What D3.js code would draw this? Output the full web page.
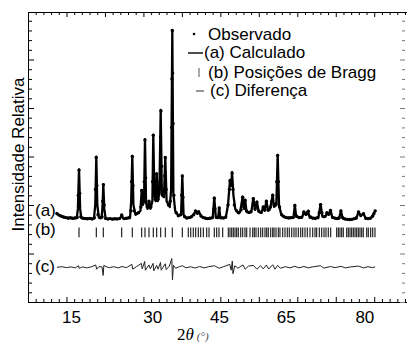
<!DOCTYPE html>
<html>
<head>
<meta charset="utf-8">
<script src="https://cdn.jsdelivr.net/npm/d3@7"></script>
<style>
  body { margin: 0; background: #fff; }
  svg { display: block; }
  text { font-family: "Liberation Sans", Arial, sans-serif; }
</style>
</head>
<body>
<svg id="chart" width="407" height="345"></svg>
<script>
// tick labels on the 2theta axis, and where they sit (in degrees)
const xTickLabels = ["15", "30", "45", "65", "80"];
const xTickValues = [15, 33, 47.8, 62.6, 80];

// (a) calculated profile: [2theta, intensity]
const calculated = [
  [11.9,45.4],[12.6,44.5],[13.5,43.6],[15,43.3],[16.3,43.3],[16.55,48],[16.8,68.4],[17.05,48],[17.3,43.3],
  [18.5,43],[20.1,43],[20.4,50],[20.63,74.9],[20.85,50],[21.2,43.5],[21.8,43.3],[22.0,49],[22.18,60.7],
  [22.4,48],[22.7,43],[24,42.8],[25.9,43],[26.25,44.8],[26.6,43],[28.1,43.3],[28.35,52],[28.6,75.3],
  [28.85,50],[29.3,45],[30.4,47],[30.68,57.7],[30.95,50],[31.2,52],[31.41,83.9],[31.65,51],[32.0,48],
  [32.3,52],[32.6,48],[33.05,52],[33.25,86.1],[33.5,55],[33.8,52],[34.0,66.3],[34.25,52],[34.6,56],
  [34.89,99.0],[35.15,55],[35.6,54],[35.91,74.7],[36.2,52],[36.9,49],[37.2,58],[37.46,140.2],[37.7,56],
  [38.1,47],[38.8,44.5],[39.4,45],[39.68,65.1],[39.95,45],[40.5,43.3],[41.5,43.5],[42.3,45.5],[42.6,47],
  [43.0,45.5],[43.3,46.5],[44,44],[45,43],[46.4,43.3],[46.76,53.8],[47.1,43.5],[47.6,43.3],[47.85,48.6],
  [48.1,43.3],[49.3,43.5],[49.8,50],[50.24,62.9],[50.5,60],[50.7,66.9],[51.0,55],[51.4,48],[52.0,46],
  [52.5,46.5],[53.05,54.3],[53.35,48],[53.6,52.6],[53.9,46.5],[54.6,46],[55.0,47],[55.4,53.5],[55.8,47.5],
  [56.2,51.7],[56.6,46.5],[57.2,46],[57.6,49.1],[57.9,47],[58.3,52.1],[58.7,47],[59.0,47.5],[59.2,49],
  [59.7,55.2],[60.0,49],[60.5,50],[60.8,75.8],[61.1,50],[61.6,45],[62.5,43.5],[64.3,43.5],[64.6,50],
  [64.9,44],[66.2,43.5],[66.6,46.5],[67.0,45],[67.5,46.9],[67.9,43.5],[69.8,43.3],[70.3,50.4],[70.7,44],
  [71.4,44],[71.7,46],[72.1,45],[72.5,47.4],[72.9,43.5],[74.4,43],[74.8,47.1],[75.2,43],[77.0,42.5],
  [78.2,43],[78.7,46.5],[79.2,44.5],[79.8,45.6],[80.3,43],[81.5,43.2],[82.0,45],[82.4,47.1]
];

// observed points: [2theta, intensity]
const observed = [
  [11.9,45.6],[12.4,44.8],[12.9,44.2],[13.4,43.8],[13.9,43.5],[14.4,43.2],[14.9,43.4],[15.4,43.1],[15.9,43.3],
  [16.4,43.6],[16.65,55],[16.8,68],[16.95,56],[17.2,44],[17.7,43.2],[18.2,43],[18.7,42.9],[19.2,43.1],
  [19.7,42.8],[20.2,43.4],[20.45,58],[20.6,74.5],[20.75,60],[21.0,45],[21.5,43.4],[21.9,44],[22.05,52],
  [22.2,60.5],[22.35,50],[22.7,43.1],[23.2,42.8],[23.7,43],[24.2,42.7],[24.7,42.9],[25.2,42.8],[25.7,43],
  [26.25,44.9],[26.8,43],[27.3,43.2],[27.8,43.5],[28.3,47],[28.45,62],[28.6,75],[28.75,60],[29.0,47],
  [29.5,45.5],[30.0,46],[30.5,49],[30.68,57.5],[30.9,51],[31.25,62],[31.4,83.5],[31.55,64],[31.9,49],
  [32.3,52],[32.7,49],[33.1,62],[33.25,86],[33.4,66],[33.7,53],[34.0,66],[34.3,53],[34.7,62],[34.85,85],
  [34.95,98.5],[35.1,70],[35.5,55],[35.8,65],[35.9,74.5],[36.1,58],[36.6,50],[37.0,52],[37.3,90],
  [37.38,115],[37.46,140],[37.55,118],[37.62,92],[37.8,55],[38.3,46],[38.8,44.5],[39.3,45],[39.55,55],
  [39.68,65],[39.8,54],[40.2,44],[40.7,43.3],[41.2,43.5],[41.7,44],[42.2,45],[42.6,47],[43.0,45.8],
  [43.3,46.5],[43.8,44.3],[44.3,43.5],[44.8,43.2],[45.3,43],[45.8,43.2],[46.3,43.5],[46.65,48],[46.76,53.5],
  [46.9,48],[47.3,43.6],[47.85,48.5],[48.3,43.4],[48.8,43.3],[49.3,43.8],[49.8,50],[50.1,58],[50.24,62.5],
  [50.45,60],[50.7,66.5],[50.9,58],[51.2,50],[51.7,47],[52.2,46],[52.7,47.5],[53.05,54],[53.3,49],
  [53.6,52.5],[53.9,47],[54.4,46.2],[54.9,46.5],[55.4,53.2],[55.8,48],[56.2,51.5],[56.6,47],[57.1,46.2],
  [57.6,49],[58.0,47.5],[58.3,52],[58.7,47.5],[59.2,49],[59.5,52],[59.7,55],[60.0,50],[60.4,50.5],
  [60.6,62],[60.8,75.5],[60.95,62],[61.2,49],[61.7,45],[62.2,44],[62.7,43.5],[63.2,43.3],[63.7,43.4],
  [64.2,43.6],[64.6,49.8],[65.0,44.2],[65.5,43.5],[66.0,43.6],[66.6,46.4],[67.1,45.2],[67.6,46.8],
  [68.1,43.8],[68.6,43.2],[69.1,43],[69.6,43.5],[70.0,46],[70.3,50.2],[70.6,46],[71.1,44],[71.7,46],
  [72.1,45.2],[72.5,47.2],[73.0,43.6],[73.5,43.2],[74.0,43],[74.4,43.4],[74.8,47],[75.2,43.5],[75.7,42.8],
  [76.2,42.6],[76.7,42.5],[77.2,42.6],[77.7,43],[78.2,43.4],[78.7,46.4],[79.2,44.6],[79.8,45.5],[80.3,43.2],
  [80.8,43],[81.3,43.2],[81.8,44.2],[82.1,45.5],[82.4,47]
];

// (b) Bragg reflection positions, 2theta
const braggPositions = [
  16.80,20.63,22.18,26.25,28.60,30.68,31.41,32.30,33.25,34.00,34.89,35.91,37.46,39.68,41.00,41.54,42.11,
  42.64,43.22,43.75,44.33,45.08,45.59,46.76,47.29,47.80,48.62,49.86,50.24,50.62,50.97,51.35,51.72,52.08,
  52.61,53.05,53.56,53.94,54.67,55.27,55.62,56.00,56.51,57.04,57.48,57.99,58.37,58.72,59.25,59.70,59.99,
  60.43,60.94,61.31,61.91,62.42,62.93,63.37,63.91,64.41,64.86,65.37,65.90,66.34,66.85,67.36,67.96,68.56,
  69.07,69.44,70.02,70.55,71.06,71.50,72.01,72.54,73.87,74.23,74.60,74.98,75.33,76.09,76.44,76.82,77.19,
  77.55,77.93,78.30,78.66,79.03,79.41,79.76,80.52,80.87,81.40,81.85,82.35
];

// (c) difference Iobs - Icalc: [2theta, value]
const difference = [
  [11.9,0],[13,0.3],[14,-0.2],[15,0.2],[16,-0.3],[16.7,0.8],[16.85,-0.6],[17.5,0.2],[18.5,-0.3],[19.5,0.2],
  [20.5,1.2],[20.7,-1.0],[21.2,0.3],[21.9,0.2],[22.15,-4.2],[22.3,1.0],[22.8,0.3],[23.5,-0.2],[24.5,0.3],
  [25.5,-0.3],[26.3,0.4],[27.3,-0.2],[28.5,1.5],[28.7,-1.0],[29.5,0.3],[30.6,2.0],[30.8,-0.8],[31.35,3.0],
  [31.5,-1.5],[32.3,1.2],[32.6,-0.8],[33.2,2.0],[33.35,-1.8],[34.0,1.0],[34.3,-1.0],[34.85,2.5],[35.0,-1.5],
  [35.9,1.8],[36.1,-1.2],[36.8,0.5],[37.35,4.5],[37.5,-6.5],[37.7,1.0],[38.2,-0.5],[39,0.3],[39.7,0.8],
  [40.5,-0.3],[41.5,0.3],[42.5,-0.4],[43.5,0.4],[44.5,-0.3],[45.5,0.3],[46.8,0.8],[47.8,-0.5],[48.8,0.3],
  [50.2,1.5],[50.5,-1.5],[50.75,3.2],[50.9,-3.3],[51.3,0.8],[52,-0.5],[53.1,1.2],[53.6,-1.0],[54.3,0.6],
  [55.4,1.0],[56.2,-1.0],[57.0,0.8],[57.6,-0.8],[58.3,1.2],[58.8,-0.9],[59.7,1.3],[60.2,-1.0],[60.8,1.0],
  [61.4,-0.5],[62.5,0.3],[63.5,-0.3],[64.6,0.5],[65.5,-0.3],[66.6,0.4],[67.6,-0.3],[68.5,0.2],[70.3,0.8],
  [71,-0.4],[72.5,0.4],[73.5,-0.2],[74.8,0.5],[75.8,-0.3],[77,0.2],[78.7,0.6],[79.8,-0.3],[80.8,0.3],
  [81.8,-0.2],[82.4,0.2]
];

const legendItems = ["Observado", "(a) Calculado", "(b) Posições de Bragg", "(c) Diferença"];

const W = 407, H = 345;
const pLeft = 28, pRight = 405, pTop = 12, pBottom = 302;
const diffOffset = 17.9;
const braggBand = [33.4, 38.4];

const svg = d3.select("#chart");

const x = d3.scaleLinear().domain([5.5, 89]).range([pLeft, pRight]);
const y = d3.scaleLinear().domain([0, 149.5]).range([pBottom, pTop]);
// frame scale for the evenly spaced minor ticks along 2theta
const xFrame = d3.scaleLinear().domain([0, 49]).range([pLeft, pRight]);

const xMinor = d3.range(0, 50);
const yMinor = d3.range(0, 150, 5);

function tickAxis(axisFn, scale, values, isMajor, size, bigSize, transform, color) {
  const g = svg.append("g").attr("transform", transform)
    .call(axisFn(scale).tickValues(values).tickSize(size).tickSizeOuter(0).tickFormat(""));
  const vertical = axisFn === d3.axisRight || axisFn === d3.axisLeft;
  const sign = (axisFn === d3.axisRight || axisFn === d3.axisBottom) ? 1 : -1;
  g.selectAll(".tick line").filter(isMajor).attr(vertical ? "x2" : "y2", sign * bigSize);
  g.selectAll("line").attr("stroke", color);
  g.select(".domain").attr("stroke", color);
  return g;
}

// frame: ticks point inwards
tickAxis(d3.axisBottom, xFrame, xMinor, d => d % 5 === 0, 3, 5, `translate(0,${pTop})`, "#000");
tickAxis(d3.axisTop, xFrame, xMinor, d => d % 5 === 0, 3, 5, `translate(0,${pBottom})`, "#000");
tickAxis(d3.axisRight, y, yMinor, d => d % 25 === 0, 4, 6, `translate(${pLeft},0)`, "#000");
const rightAx = tickAxis(d3.axisLeft, y, yMinor, d => d % 25 === 0, 3, 5, `translate(${pRight},0)`, "#777");
rightAx.select(".domain").remove();

// extend top / bottom lines to the right edge
svg.append("line").attr("x1", pRight).attr("x2", W).attr("y1", pTop + 0.5).attr("y2", pTop + 0.5).attr("stroke", "#000");
svg.append("line").attr("x1", pRight).attr("x2", W).attr("y1", pBottom + 0.5).attr("y2", pBottom + 0.5).attr("stroke", "#000");

// tick labels
const xl = svg.append("g").attr("transform", `translate(0,${pBottom})`)
  .call(d3.axisBottom(x).tickValues(xTickValues).tickSize(0).tickPadding(9)
    .tickFormat((d, i) => xTickLabels[i]));
xl.select(".domain").remove();
xl.attr("font-family", null).attr("font-size", null);
xl.selectAll("text").style("font-size", "17px").attr("fill", "#000");

// (c) difference
svg.append("path")
  .datum(difference)
  .attr("fill", "none")
  .attr("stroke", "#222")
  .attr("stroke-width", 1)
  .attr("d", d3.line().x(d => x(d[0])).y(d => y(d[1] + diffOffset)));

// (b) Bragg positions
svg.append("g").selectAll("line")
  .data(braggPositions)
  .join("line")
  .attr("x1", d => x(d)).attr("x2", d => x(d))
  .attr("y1", y(braggBand[0])).attr("y2", y(braggBand[1]))
  .attr("stroke", "#111")
  .attr("stroke-width", 1.1);

// (a) calculated
svg.append("path")
  .datum(calculated)
  .attr("fill", "none")
  .attr("stroke", "#000")
  .attr("stroke-width", 2.3)
  .attr("stroke-linejoin", "round")
  .attr("d", d3.line().x(d => x(d[0])).y(d => y(d[1])));

// observed
svg.append("g").selectAll("circle")
  .data(observed)
  .join("circle")
  .attr("cx", d => x(d[0]))
  .attr("cy", d => y(d[1]))
  .attr("r", 1.7)
  .attr("fill", "#000");

// curve labels
const curveLabels = [["(a)", 216], ["(b)", 235], ["(c)", 272]];
svg.append("g").selectAll("text")
  .data(curveLabels)
  .join("text")
  .attr("x", 35).attr("y", d => d[1])
  .style("font-size", "17px")
  .text(d => d[0]);

// legend
const leg = svg.append("g");
const rowY = [39.5, 58, 77.5, 96];
const textX = [208, 204, 208, 210];
leg.selectAll("text")
  .data(legendItems)
  .join("text")
  .attr("x", (d, i) => textX[i])
  .attr("y", (d, i) => rowY[i])
  .style("font-size", "17px")
  .text(d => d);
leg.append("circle").attr("cx", 194).attr("cy", 34).attr("r", 1.3).attr("fill", "#000");
leg.append("line").attr("x1", 188).attr("x2", 203).attr("y1", 53).attr("y2", 53).attr("stroke", "#000").attr("stroke-width", 1.4);
leg.append("line").attr("x1", 199).attr("x2", 199).attr("y1", 68).attr("y2", 77).attr("stroke", "#555").attr("stroke-width", 1);
leg.append("line").attr("x1", 196).attr("x2", 204).attr("y1", 91).attr("y2", 91).attr("stroke", "#333").attr("stroke-width", 1);

// axis titles
svg.append("text")
  .attr("transform", "translate(24,154.5) rotate(-90)")
  .attr("text-anchor", "middle")
  .style("font-size", "17px")
  .text("Intensidade Relativa");

const xt = svg.append("text")
  .attr("x", 177).attr("y", 340)
  .style("font-family", "'Liberation Serif', 'Times New Roman', serif")
  .style("font-size", "17px");
xt.append("tspan").text("2");
xt.append("tspan").style("font-style", "italic").text("θ");
xt.append("tspan").attr("dx", 3).style("font-style", "italic").style("font-size", "11px").attr("fill", "#444").text("(°)");
</script>
</body>
</html>
